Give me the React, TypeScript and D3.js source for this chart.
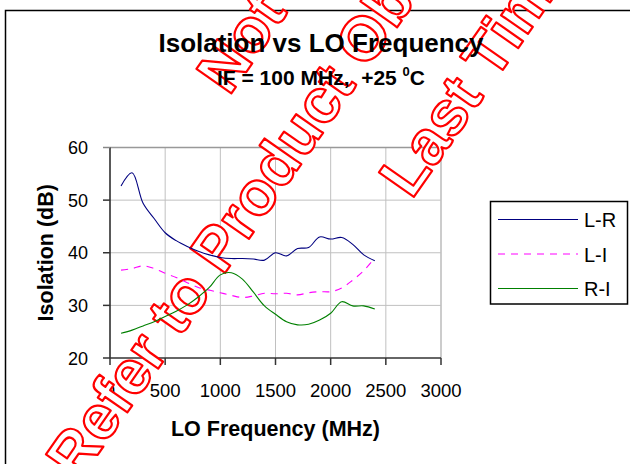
import * as d3 from 'd3'

// LO frequency in MHz
const freq = [100, 200, 300, 400, 500, 600, 700, 800, 900, 1000, 1100, 1200, 1300, 1400, 1500, 1600, 1700, 1800, 1900, 2000, 2100, 2200, 2300, 2400]
const lrIso = [52.7, 55.2, 49.4, 46.5, 43.8, 42.3, 41.2, 40.3, 39.6, 39.1, 38.9, 38.9, 38.8, 38.6, 40.0, 39.4, 40.8, 41.0, 43.0, 42.6, 42.9, 41.6, 39.6, 38.5]
const liIso = [36.7, 37.0, 37.5, 37.0, 36.1, 35.3, 34.3, 33.4, 32.9, 32.4, 31.9, 31.5, 31.8, 32.3, 32.2, 32.3, 32.0, 32.4, 32.6, 32.6, 33.3, 34.8, 36.6, 39.0]
const riIso = [24.7, 25.3, 26.1, 26.9, 27.9, 28.9, 30.1, 31.6, 33.4, 35.8, 36.2, 35.0, 32.5, 29.9, 28.3, 26.9, 26.3, 26.4, 27.2, 28.5, 30.7, 29.9, 29.9, 29.3]

const seriesNames = ['L-R', 'L-I', 'R-I']
const xTicks = [0, 500, 1000, 1500, 2000, 2500, 3000]
const yTicks = [20, 30, 40, 50, 60]
const stampLines = ['Not Recommended for New Designs', 'Refer to Product Obsolescence Notice', 'Last Time Buy']

const FONT = 'Liberation Sans, Arial, sans-serif'

export default function App() {
  const width = 630
  const height = 464

  const x = d3.scaleLinear().domain([0, 3000]).range([110, 441])
  const y = d3.scaleLinear().domain([20, 60]).range([358, 147.5])

  const series = [
    {name: seriesNames[0], values: lrIso, color: '#000080', dash: undefined},
    {name: seriesNames[1], values: liIso, color: '#ff00ff', dash: '7,6'},
    {name: seriesNames[2], values: riIso, color: '#008000', dash: undefined},
  ]

  const line = d3.line<number>()
    .x((_, i) => x(freq[i]))
    .y(d => y(d))
    .curve(d3.curveCatmullRom.alpha(0.5))

  const [x0, x1] = x.range()
  const [y0, y1] = y.range()

  // watermark stamp, rotated text lines
  const angle = -55
  const ux = Math.cos(rad(55))
  const uy = -Math.sin(rad(55))
  const nx = Math.sin(rad(55))
  const ny = Math.cos(rad(55))
  const stampPos = [[52, 243], [-350, 341], [72, 452]].map(([s, d]) => [s * ux + d * nx, s * uy + d * ny])

  return (
    <svg width={width} height={height} style={{position: 'absolute', left: 0, top: 0}} fontFamily={FONT}>
      <rect width={width} height={height} fill='#fff' />
      <path d={`M5.5,${height} V10.5 H${width}`} fill='none' stroke='#000' strokeWidth={1.5} />

      {/* grid */}
      {xTicks.slice(1).map(t => (
        <line key={'gx' + t} x1={x(t)} x2={x(t)} y1={y1} y2={y0} stroke={t === 3000 ? '#999' : '#c0c0c0'} strokeWidth={1} />
      ))}
      {yTicks.slice(1).map(t => (
        <line key={'gy' + t} x1={x0} x2={x1} y1={y(t)} y2={y(t)} stroke={t === 60 ? '#999' : '#c0c0c0'} strokeWidth={t === 60 ? 1.5 : 1} />
      ))}

      {/* axes */}
      <line x1={x0} x2={x0} y1={y1} y2={y0} stroke='#222' strokeWidth={1.5} />
      <line x1={x0} x2={x1} y1={y0} y2={y0} stroke='#333' strokeWidth={1.5} />
      {yTicks.map(t => (
        <g key={'ty' + t}>
          <line x1={x0 - 7} x2={x0} y1={y(t)} y2={y(t)} stroke={t === 60 ? '#888' : '#333'} strokeWidth={1.5} />
          <text x={88} y={y(t) + 6.5} textAnchor='end' fontSize={18} fill='#000'>{t}</text>
        </g>
      ))}
      {xTicks.map(t => (
        <g key={'tx' + t}>
          <line x1={x(t)} x2={x(t)} y1={y0} y2={y0 + 7} stroke='#333' strokeWidth={1.5} />
          <text x={x(t)} y={397} textAnchor='middle' fontSize={18.5} fill='#000'>{t}</text>
        </g>
      ))}

      <text x={x(1500)} y={436} textAnchor='middle' fontSize={21.5} fontWeight={700}>LO Frequency (MHz)</text>
      <text transform={`translate(53, ${y(40)}) rotate(-90)`} textAnchor='middle' fontSize={21.5} fontWeight={700}>Isolation (dB)</text>

      {/* stamp */}
      <g fill='#fff' stroke='#ff0000' strokeWidth={2.2} fontSize={62} fontWeight={700} strokeLinejoin='round'>
        {stampLines.map((s, i) => (
          <text key={s} transform={`translate(${stampPos[i][0]}, ${stampPos[i][1]}) rotate(${angle})`}>{s}</text>
        ))}
      </g>

      <text x={321} y={52} textAnchor='middle' fontSize={26} fontWeight={700}>Isolation vs LO Frequency</text>
      <text x={321} y={85} textAnchor='middle' fontSize={21} fontWeight={700} style={{whiteSpace: 'pre'}}>
        {'IF = 100 MHz,  +25 '}<tspan fontSize={13} dy={-9}>0</tspan><tspan dy={9}>C</tspan>
      </text>

      {series.map(s => (
        <path key={s.name} d={line(s.values) ?? undefined} fill='none' stroke={s.color} strokeWidth={1.1} strokeDasharray={s.dash} />
      ))}

      {/* legend */}
      <rect x={490.5} y={201.5} width={137} height={102.5} fill='#fff' stroke='#000' strokeWidth={1.5} />
      {series.map((s, i) => {
        const ly = 219.5 + i * 34.5
        return (
          <g key={'lg' + s.name}>
            <line x1={498} x2={578} y1={ly} y2={ly} stroke={s.color} strokeWidth={1.1} strokeDasharray={s.dash} />
            <text x={584} y={ly + 7.5} fontSize={20}>{s.name}</text>
          </g>
        )
      })}
    </svg>
  )
}

function rad(degrees: number) {
  return degrees * Math.PI / 180
}
